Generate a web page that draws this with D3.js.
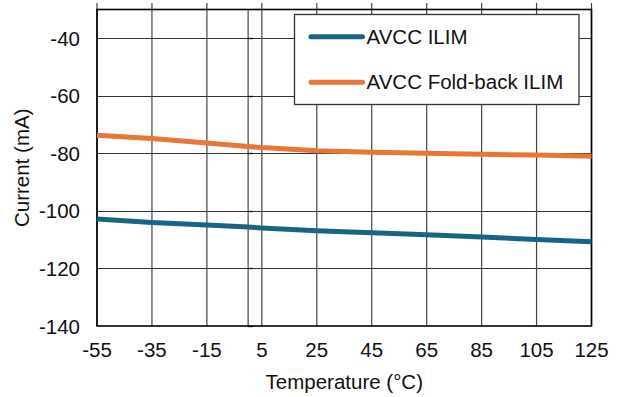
<!DOCTYPE html>
<html>
<head>
<meta charset="utf-8">
<script src="https://cdn.jsdelivr.net/npm/d3@7"></script>
<style>
  body { margin: 0; background: #fff; }
  text { font-family: "Liberation Sans", Arial, sans-serif; fill: #111; }
</style>
</head>
<body>
<svg id="chart" width="621" height="397"></svg>
<script>
// values
const temps = [-55, -35, -15, 0, 5, 25, 45, 65, 85, 105, 125];
const ilim = [-102.8, -104.0, -104.9, -105.6, -105.9, -106.9, -107.6, -108.3, -109.1, -109.9, -110.7];
const foldback = [-73.7, -74.8, -76.4, -77.6, -78.0, -79.1, -79.6, -80.0, -80.3, -80.6, -81.0];
const xTicks = [-55, -35, -15, 5, 25, 45, 65, 85, 105, 125];
const yTicks = [-140, -120, -100, -80, -60, -40];
const seriesNames = ["AVCC ILIM", "AVCC Fold-back ILIM"];
const colors = ["#186487", "#e97537"];

const svg = d3.select("#chart");
const margin = {top: 9.5, right: 29.5, bottom: 71, left: 97};
const W = 621, H = 397;
const fs = 20.5;

const x = d3.scaleLinear().domain([-55, 125]).range([margin.left, W - margin.right]);
const y = d3.scaleLinear().domain([-140, -30]).range([H - margin.bottom, margin.top]);

const g = svg.append("g");

// horizontal grid
g.selectAll(".hgrid")
  .data(yTicks.slice(1))
  .join("line")
    .attr("x1", x(-55)).attr("x2", x(125))
    .attr("y1", d => Math.round(y(d)) + 0.5).attr("y2", d => Math.round(y(d)) + 0.5)
    .attr("stroke", "#333").attr("stroke-width", 1);

// vertical grid (sticks out a bit above the frame)
g.selectAll(".vgrid")
  .data(xTicks)
  .join("line")
    .attr("x1", d => x(d)).attr("x2", d => x(d))
    .attr("y1", 3).attr("y2", y(-140))
    .attr("stroke", "#444").attr("stroke-width", 1.2);

// zero axis with small ticks
g.append("line")
  .attr("x1", x(0)).attr("x2", x(0))
  .attr("y1", y(-30)).attr("y2", y(-140))
  .attr("stroke", "#222").attr("stroke-width", 1);
g.selectAll(".ztick")
  .data(yTicks)
  .join("line")
    .attr("x1", x(0)).attr("x2", x(0) + 5)
    .attr("y1", d => Math.round(y(d)) + 0.5).attr("y2", d => Math.round(y(d)) + 0.5)
    .attr("stroke", "#111").attr("stroke-width", 1.3);

// frame
g.append("rect")
  .attr("x", x(-55)).attr("y", y(-30))
  .attr("width", x(125) - x(-55)).attr("height", y(-140) - y(-30))
  .attr("fill", "none").attr("stroke", "#000").attr("stroke-width", 1.6);

// series
const line = d3.line().x((d, i) => x(temps[i])).y(d => y(d));
[ilim, foldback].forEach((s, i) => {
  g.append("path")
    .datum(s)
    .attr("d", line)
    .attr("fill", "none")
    .attr("stroke", colors[i])
    .attr("stroke-width", 5);
});

// tick labels
g.selectAll(".xlab")
  .data(xTicks)
  .join("text")
    .attr("x", d => x(d)).attr("y", 357)
    .attr("text-anchor", "middle")
    .attr("font-size", fs)
    .text(d => d);

g.selectAll(".ylab")
  .data(yTicks)
  .join("text")
    .attr("x", 80).attr("y", d => y(d) + 7.5)
    .attr("text-anchor", "end")
    .attr("font-size", fs)
    .text(d => d);

// axis titles
svg.append("text")
  .attr("x", (x(-55) + x(125)) / 2).attr("y", 388.5)
  .attr("text-anchor", "middle")
  .attr("font-size", fs)
  .text("Temperature (°C)");

svg.append("text")
  .attr("transform", `translate(29,${(y(-30) + y(-140)) / 2}) rotate(-90)`)
  .attr("text-anchor", "middle")
  .attr("font-size", fs)
  .text("Current (mA)");

// legend
const leg = svg.append("g");
leg.append("rect")
  .attr("x", 294.5).attr("y", 14.5)
  .attr("width", 284.5).attr("height", 90)
  .attr("fill", "#fff")
  .attr("stroke", "#333").attr("stroke-width", 1.3);

const legY = [36.7, 82.3];
seriesNames.forEach((name, i) => {
  leg.append("line")
    .attr("x1", 311).attr("x2", 362.5)
    .attr("y1", legY[i]).attr("y2", legY[i])
    .attr("stroke", colors[i]).attr("stroke-width", 5)
    .attr("stroke-linecap", "round");
  leg.append("text")
    .attr("x", 366.5).attr("y", legY[i] + 7)
    .attr("font-size", fs)
    .text(name);
});
</script>
</body>
</html>
